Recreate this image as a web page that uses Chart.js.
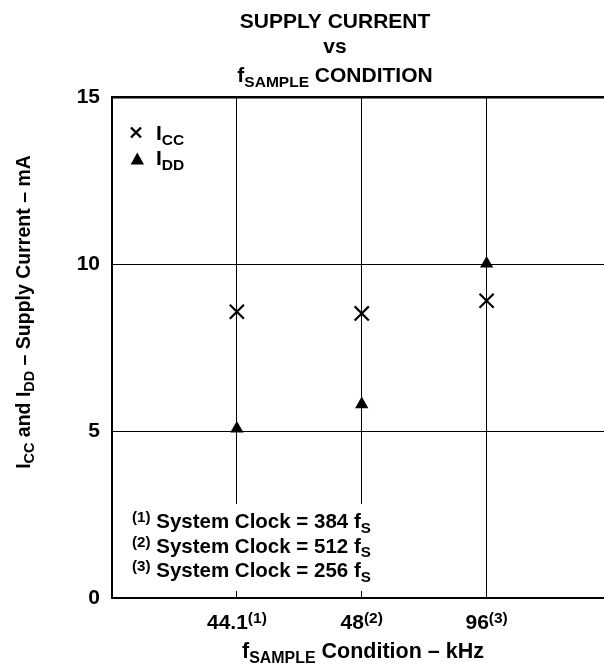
<!DOCTYPE html>
<html>
<head>
<meta charset="utf-8">
<script src="https://cdn.jsdelivr.net/npm/chart.js@4.4.1/dist/chart.umd.min.js"></script>
<style>
  html, body { margin: 0; padding: 0; background: #fff; overflow: hidden; }
  #wrap { width: 604px; height: 664px; position: relative; }
  #chart { display: block; }
</style>
</head>
<body>
<div id="wrap"><canvas id="chart"></canvas></div>
<script>
// Data
const categories = ['44.1', '48', '96'];
const categoryNotes = ['(1)', '(2)', '(3)'];
const iccValues = [8.57, 8.52, 8.90];
const iddValues = [5.07, 5.80, 10.01];
const yTicks = [0, 5, 10, 15];
const footnotes = [
    ['(1)', 'System Clock = 384 f', 'S'],
    ['(2)', 'System Clock = 512 f', 'S'],
    ['(3)', 'System Clock = 256 f', 'S']
];

const FONT = "'Liberation Sans', Arial, sans-serif";
const SIZE = 21;
const SMALL = 0.74;

function font(px) {
    return 'bold ' + px + 'px ' + FONT;
}

// text pieces: [text, 'n' | 'sub' | 'sup']
function measureRich(ctx, parts, size) {
    let w = 0;
    parts.forEach(p => {
        ctx.font = font(p[1] === 'n' ? size : size * SMALL);
        w += ctx.measureText(p[0]).width;
    });
    return w;
}

function drawRich(ctx, parts, x, y, size, align) {
    const total = measureRich(ctx, parts, size);
    let cx = x;
    if (align === 'center') cx = x - total / 2;
    if (align === 'right') cx = x - total;
    ctx.textAlign = 'left';
    ctx.textBaseline = 'alphabetic';
    ctx.fillStyle = '#000';
    parts.forEach(p => {
        let dy = 0;
        if (p[1] === 'n') {
            ctx.font = font(size);
        } else {
            ctx.font = font(size * SMALL);
            dy = p[1] === 'sub' ? size * 0.23 : -size * 0.28;
        }
        ctx.fillText(p[0], cx, y + dy);
        cx += ctx.measureText(p[0]).width;
    });
}

const textPlugin = {
    id: 'textPlugin',
    beforeDatasetsDraw(chart) {
        // white box behind the footnotes hides the grid lines there
        const ctx = chart.ctx;
        ctx.save();
        ctx.fillStyle = '#fff';
        ctx.fillRect(125, 504, 256, 87);
        ctx.restore();
    },
    afterDraw(chart) {
        const ctx = chart.ctx;
        const xs = chart.scales.x;
        ctx.save();

        // title
        drawRich(ctx, [['SUPPLY CURRENT', 'n']], 335, 28, SIZE, 'center');
        drawRich(ctx, [['vs', 'n']], 335, 53, SIZE, 'center');
        drawRich(ctx, [['f', 'n'], ['SAMPLE', 'sub'], [' CONDITION', 'n']], 335, 82, SIZE, 'center');

        // x tick labels
        categories.forEach((c, i) => {
            drawRich(ctx, [[c, 'n'], [categoryNotes[i], 'sup']], xs.getPixelForValue(i + 1), 629, SIZE, 'center');
        });

        // axis titles
        drawRich(ctx, [['f', 'n'], ['SAMPLE', 'sub'], [' Condition \u2013 kHz', 'n']], 363, 658, 21.5, 'center');
        ctx.save();
        ctx.translate(30, 312);
        ctx.rotate(-Math.PI / 2);
        drawRich(ctx, [['I', 'n'], ['CC', 'sub'], [' and I', 'n'], ['DD', 'sub'], [' \u2013 Supply Current \u2013 mA', 'n']], 0, 0, 19.5, 'center');
        ctx.restore();

        // legend
        ctx.strokeStyle = '#000';
        ctx.lineWidth = 2.4;
        ctx.beginPath();
        ctx.moveTo(131, 127.5); ctx.lineTo(141, 137.5);
        ctx.moveTo(141, 127.5); ctx.lineTo(131, 137.5);
        ctx.stroke();
        ctx.fillStyle = '#000';
        ctx.beginPath();
        ctx.moveTo(137.3, 152.5); ctx.lineTo(144, 164.5); ctx.lineTo(130.6, 164.5);
        ctx.closePath();
        ctx.fill();
        drawRich(ctx, [['I', 'n'], ['CC', 'sub']], 156, 140, SIZE, 'left');
        drawRich(ctx, [['I', 'n'], ['DD', 'sub']], 156, 165, SIZE, 'left');

        // footnotes
        footnotes.forEach((f, i) => {
            drawRich(ctx, [[f[0], 'sup'], [' ' + f[1], 'n'], [f[2], 'sub']], 132, 528 + i * 24.5, 20.5, 'left');
        });

        ctx.restore();
    }
};

new Chart(document.getElementById('chart'), {
    type: 'scatter',
    data: {
        datasets: [{
            label: 'ICC',
            data: iccValues.map((v, i) => ({ x: i + 1, y: v })),
            pointStyle: 'crossRot',
            pointRadius: 10,
            pointBorderWidth: 2.2,
            borderColor: '#000',
            backgroundColor: '#000'
        }, {
            label: 'IDD',
            data: iddValues.map((v, i) => ({ x: i + 1, y: v })),
            pointStyle: 'triangle',
            pointRadius: 7.7,
            pointBorderWidth: 0,
            borderColor: '#000',
            backgroundColor: '#000'
        }]
    },
    options: {
        responsive: true,
        maintainAspectRatio: false,
        animation: false,
        layout: {
            autoPadding: false,
            padding: { top: 97, right: 0, left: 0, bottom: 0 }
        },
        plugins: {
            legend: { display: false },
            tooltip: { enabled: false }
        },
        scales: {
            x: {
                type: 'linear',
                min: 0,
                max: 3.94,
                afterFit: s => { s.height = 66; },
                afterBuildTicks: s => {
                    s.ticks = categories.map((c, i) => ({ value: i + 1 }));
                },
                ticks: { display: false },
                grid: {
                    color: '#000',
                    lineWidth: 1,
                    drawTicks: false
                },
                border: { display: true, color: '#000', width: 2 }
            },
            y: {
                min: 0,
                max: 15,
                afterFit: s => { s.width = 112; },
                afterBuildTicks: s => {
                    s.ticks = yTicks.map(v => ({ value: v }));
                },
                ticks: {
                    color: '#000',
                    padding: 12,
                    font: { family: FONT, size: SIZE, weight: 'bold' }
                },
                grid: {
                    color: '#000',
                    lineWidth: ctx => (ctx.tick && ctx.tick.value === 15 ? 2.5 : 1),
                    drawTicks: false
                },
                border: { display: true, color: '#000', width: 2 }
            }
        }
    },
    plugins: [textPlugin]
});
</script>
</body>
</html>
